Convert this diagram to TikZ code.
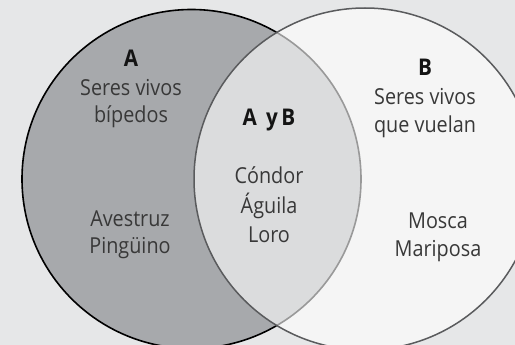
\documentclass[tikz,border=0pt]{standalone}
\usepackage{fontspec}
\setmainfont{Open Sans}[FakeStretch=0.9]
\begin{document}
\begin{tikzpicture}[x=1pt,y=-1pt,
  lbl/.style={anchor=base,font=\fontsize{22}{28}\selectfont,text=black!78,inner sep=0pt},
  ttl/.style={anchor=base,font=\fontsize{23}{28}\selectfont\bfseries,text=black!92,inner sep=0pt}]
\definecolor{bg}{HTML}{E6E7E8}
\definecolor{setA}{HTML}{A7A9AC}
\definecolor{edgeB}{HTML}{5A5B5D}
\useasboundingbox (0,0) rectangle (515,345);
\clip (0,0) rectangle (515,345);
\fill[bg] (0,0) rectangle (515,345);
\draw[fill=setA,draw=black,line width=1.6pt] (191.5,179) circle (169.5);
\draw[fill=white,fill opacity=0.6,draw=edgeB,line width=1.5pt] (365,179) circle (171);
% set A
\node[ttl] (a) at (131,67) {A};
\node[lbl] (a1) at (131,96) {Seres vivos};
\node[lbl] (a2) at (131,123) {bípedos};
\node[lbl] (a3) at (130,226) {Avestruz};
\node[lbl] (a4) at (130,254) {Pingüino};
% set B
\node[ttl] (b) at (425,76) {B};
\node[lbl] (b1) at (425,105) {Seres vivos};
\node[lbl] (b2) at (425,132) {que vuelan};
\node[lbl] (b3) at (438,228) {Mosca};
\node[lbl] (b4) at (438,256) {Mariposa};
% intersection
\node[ttl] (ab) at (269,126) {A\hspace{0.4em}y\hspace{0.15em}B};
\node[lbl] (ab1) at (269,184) {Cóndor};
\node[lbl] (ab2) at (269,213) {Águila};
\node[lbl] (ab3) at (269,242) {Loro};
\end{tikzpicture}
\end{document}
